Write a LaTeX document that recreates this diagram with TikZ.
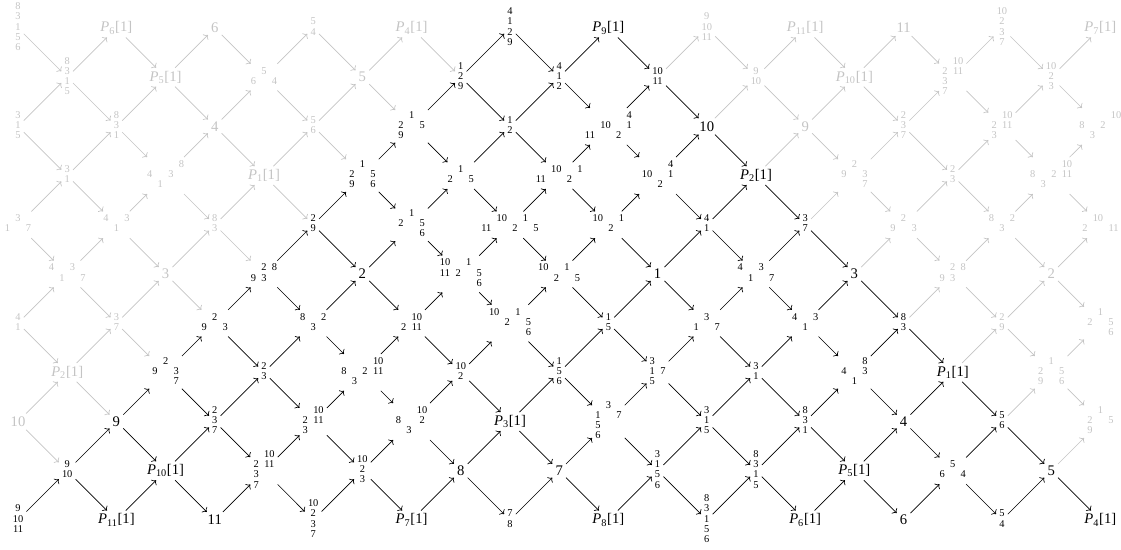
\documentclass[tikz,border=0pt]{standalone}
\usepackage{fontspec}
\setmainfont{Liberation Serif}
\usetikzlibrary{arrows.meta}
\definecolor{Faded}{RGB}{196,196,196}

% small module labels
\newcommand{\modu}[2]{{\fontsize{7.8}{7.6}\selectfont\setlength{\tabcolsep}{2pt}\begin{tabular}{@{}#1@{}}#2\end{tabular}}}
\newcommand{\stk}[1]{\modu{c}{#1}}
\newcommand{\shf}[1]{\textit{P}\textsubscript{#1}[1]}
% vertex of the mesh, black inside the strip, faded outside
\newcommand{\vtx}[3]{%
  \pgfmathtruncatemacro{\lit}{and(#1+#2>=10,#1-#2<=12)}%
  \ifnum\lit=1 \node[lab] (n#1-#2) at (#1,#2) {#3};%
  \else \node[lab,text=Faded] (n#1-#2) at (#1,#2) {#3};\fi}

\begin{document}
\begin{tikzpicture}[x=36.9pt, y=-36.9pt, >={To}]
  \tikzstyle{lab}=[inner sep=1.5pt, font=\fontsize{11}{13}\selectfont]
  \tikzstyle{ar}=[->, line width=0.5pt, shorten >=1pt, shorten <=1pt]
  \useasboundingbox (-0.366,-0.569) rectangle (22.419,10.610);

  % rows of the mesh
  \foreach \c/\lbl in {0/{\stk{8\\3\\1\\5\\6}}, 2/{\shf{6}}, 4/6, 6/{\stk{5\\4}}, 8/{\shf{4}}, 10/{\stk{4\\1\\2\\9}}, 12/{\shf{9}}, 14/{\stk{9\\10\\11}}, 16/{\shf{11}}, 18/11, 20/{\stk{10\\2\\3\\7}}, 22/{\shf{7}}}
    {\vtx{\c}{0}{\lbl}}
  \foreach \c/\lbl in {1/{\stk{8\\3\\1\\5}}, 3/{\shf{5}}, 5/{\modu{ccc}{&5&\\6&&4}}, 7/5, 9/{\stk{1\\2\\9}}, 11/{\stk{4\\1\\2}}, 13/{\stk{10\\11}}, 15/{\stk{9\\10}}, 17/{\shf{10}}, 19/{\modu{cc}{&10\\2&11\\3&\\7&}}, 21/{\stk{10\\2\\3}}}
    {\vtx{\c}{1}{\lbl}}
  \foreach \c/\lbl in {0/{\stk{3\\1\\5}}, 2/{\stk{8\\3\\1}}, 4/4, 6/{\stk{5\\6}}, 8/{\modu{ccc}{&1&\\2&&5\\9&&}}, 10/{\stk{1\\2}}, 12/{\modu{cccc}{&&&4\\&10&&1\\11&&2&}}, 14/10, 16/9, 18/{\stk{2\\3\\7}}, 20/{\modu{cc}{&10\\2&11\\3&}}, 22/{\modu{cccc}{&&&10\\8&&2&\\&3&&}}}
    {\vtx{\c}{2}{\lbl}}
  \foreach \c/\lbl in {1/{\stk{3\\1}}, 3/{\modu{cccc}{&&&8\\4&&3&\\&1&&}}, 5/{\shf{1}}, 7/{\modu{ccc}{&1&\\2&&5\\9&&6}}, 9/{\modu{ccc}{&1&\\2&&5}}, 11/{\modu{cccc}{&10&&1\\11&&2&}}, 13/{\modu{ccc}{&&4\\10&&1\\&2&}}, 15/{\shf{2}}, 17/{\modu{ccc}{&2&\\9&&3\\&&7}}, 19/{\stk{2\\3}}, 21/{\modu{cccc}{&&&10\\8&&2&11\\&3&&}}}
    {\vtx{\c}{3}{\lbl}}
  \foreach \c/\lbl in {0/{\modu{ccc}{&3&\\1&&7}}, 2/{\modu{ccc}{4&&3\\&1&}}, 4/{\stk{8\\3}}, 6/{\stk{2\\9}}, 8/{\modu{ccc}{&1&\\2&&5\\&&6}}, 10/{\modu{ccccc}{&10&&1&\\11&&2&&5}}, 12/{\modu{ccc}{10&&1\\&2&}}, 14/{\stk{4\\1}}, 16/{\stk{3\\7}}, 18/{\modu{ccc}{&2&\\9&&3}}, 20/{\modu{ccc}{8&&2\\&3&}}, 22/{\modu{ccc}{&10&\\2&&11}}}
    {\vtx{\c}{4}{\lbl}}
  \foreach \c/\lbl in {1/{\modu{cccc}{4&&3&\\&1&&7}}, 3/3, 5/{\modu{ccc}{&2&8\\9&3&}}, 7/2, 9/{\modu{cccc}{10&&1&\\11&2&&5\\&&&6}}, 11/{\modu{cccc}{10&&1&\\&2&&5}}, 13/1, 15/{\modu{cccc}{4&&3&\\&1&&7}}, 17/3, 19/{\modu{ccc}{&2&8\\9&3&}}, 21/2}
    {\vtx{\c}{5}{\lbl}}
  \foreach \c/\lbl in {0/{\stk{4\\1}}, 2/{\stk{3\\7}}, 4/{\modu{ccc}{&2&\\9&&3}}, 6/{\modu{ccc}{8&&2\\&3&}}, 8/{\modu{cc}{&10\\2&11}}, 10/{\modu{cccc}{10&&1&\\&2&&5\\&&&6}}, 12/{\stk{1\\5}}, 14/{\modu{ccc}{&3&\\1&&7}}, 16/{\modu{ccc}{4&&3\\&1&}}, 18/{\stk{8\\3}}, 20/{\stk{2\\9}}, 22/{\modu{ccc}{&1&\\2&&5\\&&6}}}
    {\vtx{\c}{6}{\lbl}}
  \foreach \c/\lbl in {1/{\shf{2}}, 3/{\modu{ccc}{&2&\\9&&3\\&&7}}, 5/{\stk{2\\3}}, 7/{\modu{cccc}{&&&10\\8&&2&11\\&3&&}}, 9/{\stk{10\\2}}, 11/{\stk{1\\5\\6}}, 13/{\modu{cc}{3&\\1&7\\5&}}, 15/{\stk{3\\1}}, 17/{\modu{ccc}{&&8\\4&&3\\&1&}}, 19/{\shf{1}}, 21/{\modu{ccc}{&1&\\2&&5\\9&&6}}}
    {\vtx{\c}{7}{\lbl}}
  \foreach \c/\lbl in {0/10, 2/9, 4/{\stk{2\\3\\7}}, 6/{\modu{cc}{&10\\2&11\\3&}}, 8/{\modu{ccc}{&&10\\8&&2\\&3&}}, 10/{\shf{3}}, 12/{\modu{ccc}{&3&\\1&&7\\5&&\\6&&}}, 14/{\stk{3\\1\\5}}, 16/{\stk{8\\3\\1}}, 18/4, 20/{\stk{5\\6}}, 22/{\modu{ccc}{&1&\\2&&5\\9&&}}}
    {\vtx{\c}{8}{\lbl}}
  \foreach \c/\lbl in {1/{\stk{9\\10}}, 3/{\shf{10}}, 5/{\modu{cc}{&10\\2&11\\3&\\7&}}, 7/{\stk{10\\2\\3}}, 9/8, 11/7, 13/{\stk{3\\1\\5\\6}}, 15/{\stk{8\\3\\1\\5}}, 17/{\shf{5}}, 19/{\modu{ccc}{&5&\\6&&4}}, 21/5}
    {\vtx{\c}{9}{\lbl}}
  \foreach \c/\lbl in {0/{\stk{9\\10\\11}}, 2/{\shf{11}}, 4/11, 6/{\stk{10\\2\\3\\7}}, 8/{\shf{7}}, 10/{\stk{7\\8}}, 12/{\shf{8}}, 14/{\stk{8\\3\\1\\5\\6}}, 16/{\shf{6}}, 18/6, 20/{\stk{5\\4}}, 22/{\shf{4}}}
    {\vtx{\c}{10}{\lbl}}

  % arrows
  \foreach \c in {0,...,21}{
    \foreach \r in {0,...,10}{
      \pgfmathtruncatemacro{\pty}{mod(\c+\r,2)}
      \ifnum\pty=0
        \pgfmathtruncatemacro{\nc}{\c+1}
        \ifnum\r>0
          \pgfmathtruncatemacro{\rr}{\r-1}
          \pgfmathtruncatemacro{\lit}{and(\c+\r>=10,\c-\r<=10)}
          \ifnum\lit=1 \draw[ar] (n\c-\r) -- (n\nc-\rr); \else \draw[ar,Faded] (n\c-\r) -- (n\nc-\rr); \fi
        \fi
        \ifnum\r<10
          \pgfmathtruncatemacro{\rr}{\r+1}
          \pgfmathtruncatemacro{\lit}{and(\c+\r>=10,\c-\r<=12)}
          \ifnum\lit=1 \draw[ar] (n\c-\r) -- (n\nc-\rr); \else \draw[ar,Faded] (n\c-\r) -- (n\nc-\rr); \fi
        \fi
      \fi
    }
  }
\end{tikzpicture}
\end{document}
